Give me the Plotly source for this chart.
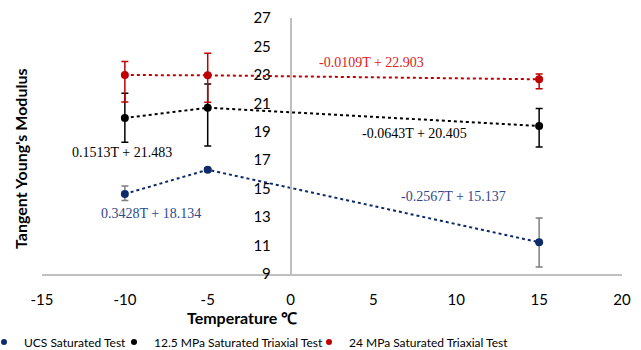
import plotly.graph_objects as go

temps = [-10, -5, 15]

ucs_vals = [14.63, 16.33, 11.23]
ucs_err_plus = [0.56, 0.12, 1.71]
ucs_err_minus = [0.47, 0.12, 1.74]

mpa12_vals = [19.97, 20.69, 19.41]
mpa12_err_plus = [1.74, 1.67, 1.22]
mpa12_err_minus = [1.71, 2.69, 1.48]

mpa24_vals = [22.99, 22.97, 22.69]
mpa24_err_plus = [0.96, 1.55, 0.37]
mpa24_err_minus = [1.90, 1.90, 0.66]

series_names = ["UCS Saturated Test", "12.5 MPa Saturated Triaxial Test", "24 MPa Saturated Triaxial Test"]
equations = ["0.3428T + 18.134", "-0.2567T + 15.137", "0.1513T + 21.483", "-0.0643T + 20.405", "-0.0109T + 22.903"]

x_ticks = [-15, -10, -5, 0, 5, 10, 15, 20]
x_tick_labels = ["-15", "-10", "-5", "0", "5", "10", "15", "20"]
y_ticks = [9, 11, 13, 15, 17, 19, 21, 23, 25, 27]

NAVY = "#0F2A6B"
BLACK = "#000000"
RED = "#C00000"

fig = go.Figure()

specs = [
    (ucs_vals, ucs_err_plus, ucs_err_minus, NAVY, "#7F7F7F"),
    (mpa12_vals, mpa12_err_plus, mpa12_err_minus, BLACK, BLACK),
    (mpa24_vals, mpa24_err_plus, mpa24_err_minus, RED, RED),
]
for name, (vals, ep, em, col, ecol) in zip(series_names, specs):
    fig.add_trace(go.Scatter(
        x=temps, y=vals, mode="lines+markers", name=name, showlegend=False,
        line=dict(color=col, width=2, dash="dot"),
        marker=dict(color=col, size=8),
        error_y=dict(type="data", symmetric=False, array=ep, arrayminus=em,
                     color=ecol, thickness=1.5, width=3.5),
    ))
# legend entries (markers only, as in the original), one legend box each
legend_ids = ["legend", "legend2", "legend3"]
for name, (_, _, _, col, _), lid in zip(series_names, specs, legend_ids):
    fig.add_trace(go.Scatter(x=[None], y=[None], mode="markers", name=name, legend=lid,
                             marker=dict(color=col, size=6)))

serif = "Liberation Serif, Times New Roman, serif"
ann_specs = [
    (equations[0], -8.42, 13.22, "#2F4A8A"),
    (equations[1], 9.86, 14.48, "#2F4A8A"),
    (equations[2], -10.17, 17.51, BLACK),
    (equations[3], 7.45, 18.91, BLACK),
    (equations[4], 4.91, 23.84, "#E0201B"),
]
for text, ax, ay, col in ann_specs:
    fig.add_annotation(x=ax, y=ay, xref="x", yref="y", text=text, showarrow=False,
                       font=dict(family=serif, size=14, color=col))

fig.add_annotation(x=(20 - 42) / 580, y=(274 - 159) / 256, xref="paper", yref="paper",
                   xanchor="center", yanchor="middle",
                   text="<b>Tangent Young's Modulus</b>",
                   textangle=-90, showarrow=False, font=dict(family="Lato", size=16, color="#000000"))
fig.add_annotation(x=(242 - 42) / 580, y=-(317 - 274) / 256, xref="paper", yref="paper",
                   xanchor="center", yanchor="middle",
                   text="<b>Temperature ℃</b>", showarrow=False,
                   font=dict(family="Lato", size=16, color="#000000"))

legend_style = dict(orientation="h", xanchor="left", y=-(342 - 274) / 256, yanchor="middle",
                    font=dict(family="Lato", size=12), itemwidth=30, bgcolor="rgba(0,0,0,0)")
fig.update_layout(
    width=641, height=350,
    margin=dict(l=42, r=19, t=18, b=76, autoexpand=False),
    paper_bgcolor="white", plot_bgcolor="white",
    font=dict(family="Lato", size=15, color="#000000"),
    xaxis=dict(range=[-15, 20], tickvals=x_ticks, ticktext=x_tick_labels, showgrid=False, zeroline=False,
               showline=True, linecolor="#BFBFBF", linewidth=1.5, ticks="",
               ticklabelstandoff=11, automargin=False),
    yaxis=dict(range=[9, 27], tickvals=y_ticks, showgrid=False, zeroline=False,
               showline=True, linecolor="#BFBFBF", linewidth=1.5, ticks="",
               anchor="free", position=15 / 35, ticklabelstandoff=16, automargin=False),
    legend=dict(x=(-16 - 42) / 580, **legend_style),
    legend2=dict(x=(114 - 42) / 580, **legend_style),
    legend3=dict(x=(309 - 42) / 580, **legend_style),
)

fig.write_html("out.html")
